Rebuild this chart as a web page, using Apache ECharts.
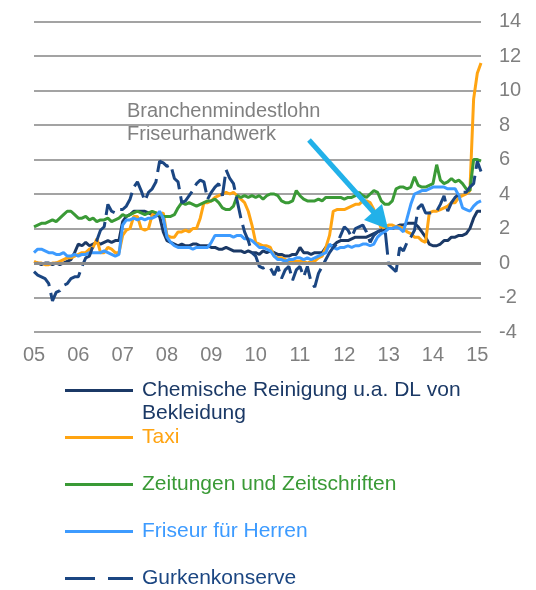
<!DOCTYPE html>
<html>
<head>
<meta charset="utf-8">
<script src="https://cdn.jsdelivr.net/npm/echarts@6/dist/echarts.min.js"></script>
<style>
  html, body { margin: 0; padding: 0; background: #fff; }
  #chart { width: 536px; height: 590px; }
</style>
</head>
<body>
<div id="chart"></div>
<script>
// monthly, Jan 2005 .. Feb 2015
var months = []
for (var y = 2005; y <= 2015; y++) {
  for (var m = 1; m <= 12; m++) {
    if (y === 2015 && m > 2) break
    months.push(y + '-' + (m < 10 ? '0' + m : m))
  }
}

// Chemische Reinigung u.a. DL von Bekleidung
var chemische = [
  0.0, 0.0, -0.1, 0.0, 0.0, -0.1, 0.0, -0.1, 0.0, 0.1, 0.2, 0.6,
  1.1, 1.0, 1.2, 1.0, 1.1, 1.2, 1.1, 1.2, 1.3, 1.2, 1.3, 1.3,
  2.4, 2.7, 2.8, 3.0, 3.0, 3.0, 3.0, 2.9, 2.8, 2.8, 2.7, 1.8,
  1.3, 1.2, 1.1, 1.0, 1.1, 1.0, 1.0, 1.1, 1.1, 1.0, 1.0, 1.0,
  0.9, 0.9, 0.8, 0.8, 0.9, 0.8, 0.7, 0.7, 0.7, 0.6, 0.7, 0.6,
  0.6, 0.5, 0.7, 0.6, 0.7, 0.6, 0.5, 0.5, 0.4, 0.4, 0.5, 0.5,
  0.9, 0.6, 0.6, 0.5, 0.6, 0.6, 0.6, 0.9, 1.0, 1.0, 1.2, 1.3,
  1.3, 1.3, 1.4, 1.5, 1.5, 1.5, 1.5, 1.6, 1.7, 1.8, 1.9, 1.9,
  2.0, 2.0, 2.1, 2.2, 2.2, 2.3, 2.3, 2.3, 2.1, 1.8, 1.5, 1.1,
  1.0, 1.0, 1.1, 1.3, 1.3, 1.5, 1.5, 1.6, 1.6, 1.7, 2.0, 2.6,
  3.0, 3.0
]
var taxi = [
  0.1, 0.0, 0.0, -0.1, -0.1, 0.0, 0.0, 0.1, 0.2, 0.3, 0.3, 0.4,
  0.5, 0.6, 0.6, 0.8, 0.9, 1.4, 0.6, 0.6, 0.9, 0.8, 0.6, 0.6,
  1.6, 1.9, 2.0, 2.7, 2.7, 2.0, 1.9, 2.0, 2.8, 2.9, 2.8, 2.9,
  1.6, 1.5, 1.5, 1.8, 1.8, 1.9, 1.8, 2.0, 2.0, 2.6, 3.5, 3.5,
  3.6, 3.8, 3.9, 4.0, 4.1, 4.0, 4.1, 3.9, 3.7, 3.5, 3.0, 2.2,
  1.2, 1.1, 1.0, 1.0, 0.9, 0.4, 0.3, 0.3, 0.2, 0.1, 0.1, 0.1,
  0.1, 0.1, 0.0, 0.1, 0.1, 0.3, 0.4, 0.9, 1.6, 3.0, 3.1, 3.1,
  3.1, 3.2, 3.3, 3.4, 3.4, 3.6, 3.6, 3.5, 3.1, 2.6, 2.0, 2.1,
  2.2, 2.2, 2.1, 2.1, 2.0, 1.8, 1.7, 1.5, 1.5, 1.3, 1.2, 2.9,
  3.0, 3.0, 3.1, 3.2, 3.3, 3.5, 3.5, 3.8, 3.9, 4.0, 4.2, 9.5,
  11.0, 11.6
]
var zeitungen = [
  2.1, 2.2, 2.3, 2.3, 2.4, 2.5, 2.4, 2.6, 2.8, 3.0, 3.0, 2.8,
  2.6, 2.6, 2.7, 2.5, 2.6, 2.4, 2.5, 2.5, 2.6, 2.4, 2.5, 2.6,
  2.8, 2.7, 2.8, 2.9, 3.0, 2.9, 2.8, 2.9, 3.0, 2.9, 2.8, 2.7,
  2.7, 2.7, 2.8, 3.2, 3.5, 3.4, 3.5, 3.4, 3.3, 3.4, 3.5, 3.6,
  3.6, 3.7, 3.5, 3.2, 3.1, 3.1, 3.3, 3.9, 3.8, 3.9, 3.8, 3.9,
  3.8, 3.9, 3.7, 3.9, 4.0, 4.0, 3.9, 3.6, 3.5, 3.5, 3.6, 4.2,
  3.9, 3.7, 3.6, 3.6, 3.6, 3.7, 3.6, 3.8, 3.8, 3.8, 3.8, 3.8,
  3.7, 3.8, 3.8, 3.9, 4.1, 3.9, 3.8, 4.0, 4.2, 4.1, 3.6, 3.4,
  3.4, 3.6, 4.3, 4.4, 4.4, 4.3, 4.4, 5.0, 4.5, 4.4, 4.4, 4.5,
  4.6, 5.7, 4.8, 4.6, 4.7, 4.9, 4.7, 4.8, 4.6, 4.3, 4.2, 6.0,
  6.0, 5.9
]
var friseur = [
  0.6, 0.8, 0.8, 0.7, 0.6, 0.6, 0.5, 0.5, 0.6, 0.4, 0.4, 0.5,
  0.4, 0.5, 0.5, 0.6, 0.6, 0.6, 0.6, 0.7, 0.6, 0.5, 0.4, 0.5,
  2.2, 2.5, 2.5, 2.6, 2.5, 2.6, 2.5, 2.6, 2.6, 2.7, 3.0, 2.6,
  1.5, 1.2, 1.0, 0.9, 0.9, 0.9, 0.9, 0.8, 0.9, 0.9, 0.9, 0.9,
  1.2, 1.6, 1.6, 1.6, 1.6, 1.6, 1.5, 1.6, 1.6, 1.4, 1.4, 1.3,
  1.1, 0.9, 0.9, 0.8, 0.7, 0.4, 0.2, 0.2, 0.1, 0.2, 0.2, 0.3,
  0.3, 0.2, 0.3, 0.2, 0.3, 0.4, 0.5, 0.6, 1.1, 0.9, 0.8, 0.9,
  0.9, 1.0, 0.9, 1.0, 1.0, 1.1, 1.1, 1.0, 1.1, 1.5, 1.7, 1.8,
  2.0, 2.0, 2.1, 2.0, 1.8, 2.6, 3.4, 4.0, 4.1, 4.2, 4.2, 4.3,
  4.4, 4.4, 4.4, 4.4, 4.3, 4.3, 4.3, 3.9, 3.2, 3.1, 3.0, 3.3,
  3.5, 3.6
]
var gurken = [
  -0.5, -0.7, -0.8, -0.9, -1.2, -2.2, -1.7, -1.6, -1.3, -1.2, -0.9, -0.8,
  -0.8, -0.2, 0.3, 0.4, 1.0, 1.3, 1.9, 2.1, 3.4, 3.0, 2.9, 3.1,
  3.1, 3.3, 3.7, 4.4, 4.7, 4.2, 3.6, 4.1, 4.3, 4.7, 5.9, 5.8,
  5.6, 5.7, 4.9, 4.7, 3.5, 3.6, 3.9, 4.2, 4.6, 4.8, 4.7, 3.7,
  4.1, 4.4, 4.6, 3.9, 5.4, 4.9, 4.6, 3.6, 2.6, 1.8, 1.3, 0.6,
  0.4, -0.2, -0.3, -0.2, -0.3, -0.7, -0.2, -0.9, -0.4, -0.2, -1.0, -0.4,
  -0.2, -0.8, -0.2, -1.1, -1.4, -0.6, -0.2, 0.2, 0.6, 0.9, 1.1, 1.6,
  2.1, 1.9, 1.5, 2.0, 2.1, 2.2, 1.8, 1.2, 1.6, 1.8, 1.9, 2.0,
  -0.1, -0.3, -0.5, 0.9, 0.7, 1.2, 1.5, 1.9, 3.2, 3.4, 2.9, 2.9,
  2.9, 3.0, 3.4, 3.9, 3.0, 3.5, 3.8, 4.0, 4.1, 4.1, 4.4, 4.6,
  5.9, 5.3
]

var names = [
  'Chemische Reinigung u.a. DL von Bekleidung',
  'Taxi',
  'Zeitungen und Zeitschriften',
  'Friseur für Herren',
  'Gurkenkonserve'
]
var colors = ['#1b3966', '#ffa412', '#3a9a36', '#3d9bff', '#1b4682']

var font = 'Liberation Sans'
var chart = echarts.init(document.getElementById('chart'))

chart.setOption({
  animation: false,
  textStyle: { fontFamily: font },
  grid: { left: 34, right: 55, top: 21.5, bottom: 258 },
  xAxis: {
    type: 'category',
    data: months,
    boundaryGap: false,
    axisLine: { show: false },
    axisTick: { show: false },
    splitLine: { show: false },
    axisLabel: {
      interval: function (index) { return index % 12 === 0 },
      formatter: function (v) { return v.slice(2, 4) },
      color: '#7f7f7f',
      fontSize: 20,
      margin: 13
    }
  },
  yAxis: {
    type: 'value',
    position: 'right',
    min: -4,
    max: 14,
    interval: 2,
    axisLine: { show: false },
    axisTick: { show: false },
    axisLabel: { color: '#7f7f7f', fontSize: 20, margin: 18 },
    splitLine: { lineStyle: { color: '#a3a3a3', width: 2 } }
  },
  legend: {
    orient: 'vertical',
    left: 65,
    top: 380,
    height: 260,
    padding: 0,
    itemWidth: 68,
    itemHeight: 3,
    itemGap: 26,
    symbolKeepAspect: false,
    selectedMode: false,
    formatter: function (name) {
      return name === names[0] ? 'Chemische Reinigung u.a. DL von' : name
    },
    textStyle: { fontSize: 21, lineHeight: 20, padding: [0, 0, 0, 4] },
    data: names.map(function (n, i) {
      return {
        name: n,
        icon: i === 4 ? 'path://M0,0H30V3H0Z M43,0H68V3H43Z' : 'rect',
        textStyle: { color: colors[i] }
      }
    })
  },
  graphic: [
    {
      type: 'text', left: 127, top: 100,
      style: {
        text: 'Branchenmindestlohn\nFriseurhandwerk',
        fill: '#808080', fontSize: 20, fontFamily: font, lineHeight: 23
      }
    },
    {
      type: 'text', left: 142, top: 403,
      style: { text: 'Bekleidung', fill: colors[0], fontSize: 21, fontFamily: font, lineHeight: 20 }
    },
    {
      type: 'line', z: 100,
      shape: { x1: 309, y1: 140, x2: 377, y2: 216 },
      style: { stroke: '#22b1e9', lineWidth: 5 }
    },
    {
      type: 'polygon', z: 100,
      shape: { points: [[388, 229], [364, 220], [382, 204]] },
      style: { fill: '#22b1e9' }
    }
  ],
  series: [
    {
      name: names[0], type: 'line', data: chemische,
      symbol: 'none', lineStyle: { width: 3, color: colors[0] }, itemStyle: { color: colors[0] },
      markLine: {
        silent: true, symbol: 'none', label: { show: false },
        lineStyle: { color: '#8a8a8a', width: 3, type: 'solid' },
        data: [{ yAxis: 0 }]
      }
    },
    {
      name: names[1], type: 'line', data: taxi,
      symbol: 'none', lineStyle: { width: 3, color: colors[1] }, itemStyle: { color: colors[1] }
    },
    {
      name: names[2], type: 'line', data: zeitungen,
      symbol: 'none', lineStyle: { width: 3, color: colors[2] }, itemStyle: { color: colors[2] }
    },
    {
      name: names[3], type: 'line', data: friseur,
      symbol: 'none', lineStyle: { width: 3, color: colors[3] }, itemStyle: { color: colors[3] }
    },
    {
      name: names[4], type: 'line', data: gurken,
      symbol: 'none', lineStyle: { width: 3, color: colors[4], type: [22, 7] }, itemStyle: { color: colors[4] }
    }
  ]
})
</script>
</body>
</html>
